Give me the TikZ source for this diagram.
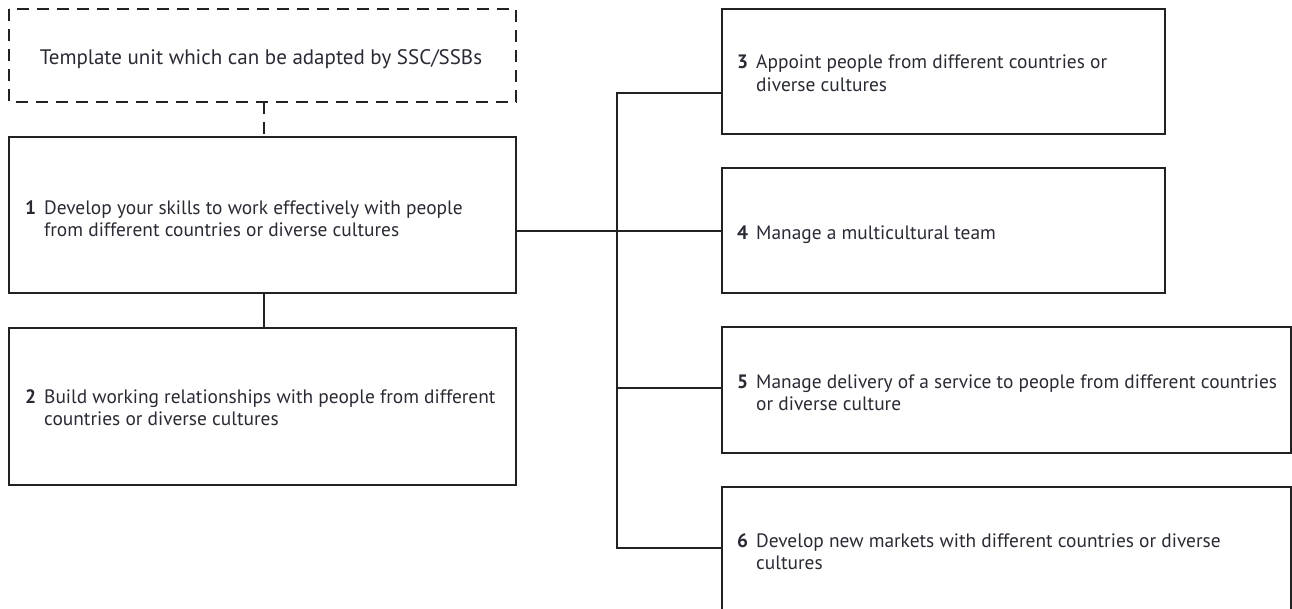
\documentclass[tikz,border=0pt]{standalone}
\usepackage{fontspec}
\setmainfont{PT Sans}
\definecolor{ink}{HTML}{222222}
\definecolor{txt}{HTML}{2A2A35}
\tikzset{
  box/.style={draw=ink, line width=2.8pt},
  dbox/.style={draw=ink, line width=2.8pt, dash pattern=on 12pt off 8pt},
  conn/.style={draw=ink, line width=2.8pt},
  lbl/.style={anchor=west, inner sep=0pt, text=txt, font=\fontsize{19.4}{22.5}\selectfont, align=left},
}
\newcommand{\itm}[3]{\begin{tabular}{@{}p{19pt}@{}l@{}}\textbf{#1}&#2\\&#3\end{tabular}}
\begin{document}
\begin{tikzpicture}[x=1pt,y=-1pt]
\useasboundingbox (0,0) rectangle (1292,609);
\clip (0,0) rectangle (1292,609);
% boxes
\draw[dbox] (9,9) rectangle (516,102);
\node[inner sep=0pt, text=txt, font=\fontsize{21}{24}\selectfont] (t0) at (261,59) {Template unit which can be adapted by SSC/SSBs};
\coordinate (b0) at (264,102);
\draw[box] (9,137) rectangle (516,293);
\coordinate (b1t) at (264,137);
\coordinate (b1b) at (264,293);
\coordinate (b1r) at (516,231);
\node[lbl] (t1) at (25,221) {\itm{1}{Develop your skills to work effectively with people}{from different countries or diverse cultures}};
\draw[box] (9,328) rectangle (516,485);
\coordinate (b2t) at (264,328);
\node[lbl] (t2) at (25,410) {\itm{2}{Build working relationships with people from different}{countries or diverse cultures}};
\draw[box] (722,9) rectangle (1165,134);
\coordinate (b3l) at (722,93);
\node[lbl] (t3) at (737,75.5) {\itm{3}{Appoint people from different countries or}{diverse cultures}};
\draw[box] (722,168) rectangle (1165,293);
\coordinate (b4l) at (722,231);
\node[lbl] (t4) at (737,235) {\begin{tabular}{@{}p{19pt}@{}l@{}}\textbf{4}&Manage a multicultural team\end{tabular}};
\draw[box] (722,327) rectangle (1291,453);
\coordinate (b5l) at (722,388);
\node[lbl] (t5) at (737,395) {\itm{5}{Manage delivery of a service to people from different countries}{or diverse culture}};
\draw[box] (722,487) rectangle (1291,640);
\coordinate (b6l) at (722,548);
\node[lbl] (t6) at (737,554) {\itm{6}{Develop new markets with different countries or diverse}{cultures}};
% trunk
\coordinate (j3) at (617,93);
\coordinate (j4) at (617,231);
\coordinate (j5) at (617,388);
\coordinate (j6) at (617,548);
\draw[conn, dash pattern=on 12pt off 8pt] (b0) -- (b1t);
\draw[conn] (b1b) -- (b2t);
\draw[conn] (b1r) -- (b4l);
\draw[conn] (b3l) -- (j3) -- (j6) -- (b6l);
\draw[conn] (j5) -- (b5l);
\end{tikzpicture}
\end{document}
